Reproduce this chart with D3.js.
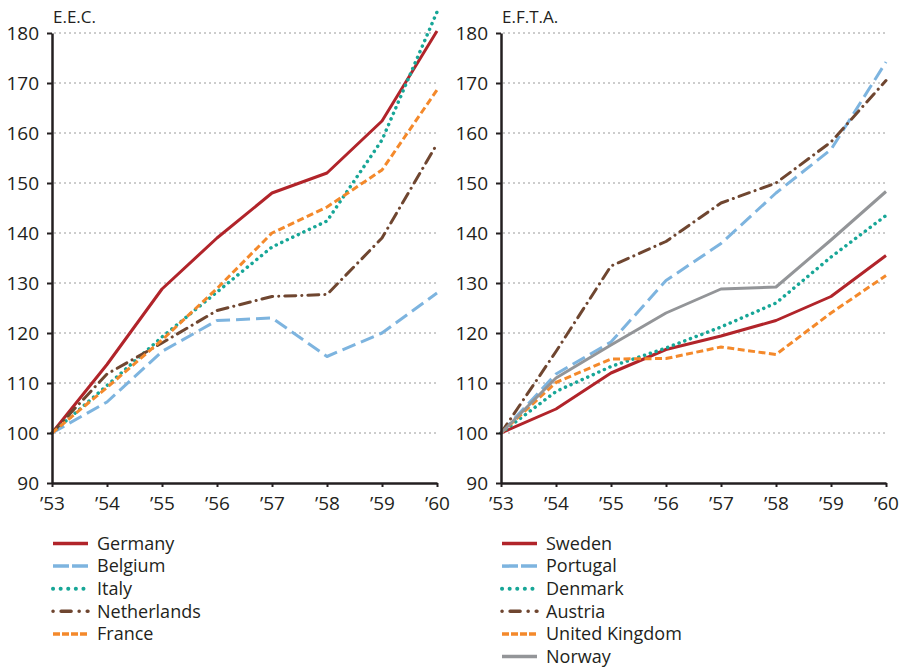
<!DOCTYPE html>
<html>
<head>
<meta charset="utf-8">
<script src="https://cdn.jsdelivr.net/npm/d3@7"></script>
<style>
  body { margin: 0; background: #fff; }
  svg { display: block; font-family: "Open Sans", sans-serif; }
</style>
</head>
<body>
<svg id="chart"></svg>
<script>
// years and tick labels
const years = [1953, 1954, 1955, 1956, 1957, 1958, 1959, 1960];
const yearLabels = ['\u201953', '\u201954', '\u201955', '\u201956', '\u201957', '\u201958', '\u201959', '\u201960'];
const yTicks = [90, 100, 110, 120, 130, 140, 150, 160, 170, 180];

// E.E.C. series (1953 = 100)
const eecNames = ['Germany', 'Belgium', 'Italy', 'Netherlands', 'France'];
const germany     = [100, 113.7, 128.8, 139.0, 148.0, 152.0, 162.4, 180.4];
const belgium     = [100, 106.2, 116.3, 122.5, 123.0, 115.3, 120.0, 128.0];
const italy       = [100, 109.5, 119.2, 128.2, 137.2, 142.4, 158.6, 184.2];
const netherlands = [100, 111.8, 118.0, 124.5, 127.3, 127.7, 139.0, 157.8];
const france      = [100, 109.1, 118.6, 128.9, 140.0, 145.2, 152.6, 168.6];

// E.F.T.A. series (1953 = 100)
const eftaNames = ['Sweden', 'Portugal', 'Denmark', 'Austria', 'United Kingdom', 'Norway'];
const sweden   = [100, 104.8, 112.0, 116.7, 119.4, 122.5, 127.3, 135.5];
const portugal = [100, 111.8, 118.2, 130.5, 137.9, 148.0, 156.7, 174.2];
const denmark  = [100, 108.3, 113.3, 117.0, 121.2, 126.0, 135.2, 143.5];
const austria  = [100, 116.3, 133.4, 138.3, 146.0, 150.0, 158.2, 170.5];
const uk       = [100, 110.1, 114.8, 114.9, 117.2, 115.7, 124.0, 131.5];
const norway   = [100, 111.0, 117.6, 124.0, 128.8, 129.2, 138.6, 148.3];

// line styles by series slot (dash = in chart, legendDash = in key)
const styles = {
  solidRed:  {color: '#b1242a', dash: null, legendDash: null, cap: 'butt', width: 3},
  longBlue:  {color: '#7db4df', dash: '14,6', legendDash: '16,3', cap: 'butt', width: 3},
  dotTeal:   {color: '#17a697', dash: '0.1,6', legendDash: '0.1,7.5', cap: 'round', width: 3.5},
  dashDot:   {color: '#6f4630', dash: '11,6,0.1,6', legendDash: '0.1,8,10,8', cap: 'round', width: 3},
  shortOrg:  {color: '#f4892b', dash: '7,3.5', legendDash: '7,2', cap: 'butt', width: 3},
  solidGray: {color: '#939598', dash: null, legendDash: null, cap: 'butt', width: 3}
};

const eecSeries = [
  {name: eecNames[0], values: germany,     style: styles.solidRed},
  {name: eecNames[1], values: belgium,     style: styles.longBlue},
  {name: eecNames[2], values: italy,       style: styles.dotTeal},
  {name: eecNames[3], values: netherlands, style: styles.dashDot},
  {name: eecNames[4], values: france,      style: styles.shortOrg}
];
const eftaSeries = [
  {name: eftaNames[0], values: sweden,   style: styles.solidRed},
  {name: eftaNames[1], values: portugal, style: styles.longBlue},
  {name: eftaNames[2], values: denmark,  style: styles.dotTeal},
  {name: eftaNames[3], values: austria,  style: styles.dashDot},
  {name: eftaNames[4], values: uk,       style: styles.shortOrg},
  {name: eftaNames[5], values: norway,   style: styles.solidGray}
];

const width = 900, height = 669;
const ink = '#231f20';

const svg = d3.select('#chart')
  .attr('width', width)
  .attr('height', height);

const yScale = d3.scaleLinear().domain([90, 180]).range([483, 33]);

function drawPanel(left, right, title, series) {
  const xScale = d3.scaleLinear().domain([1953, 1960]).range([left, right]);
  const g = svg.append('g');

  // dotted gridlines
  g.append('g')
    .selectAll('line')
    .data(yTicks.filter(d => d > 90))
    .join('line')
    .attr('x1', left + 2)
    .attr('x2', right)
    .attr('y1', d => yScale(d))
    .attr('y2', d => yScale(d))
    .attr('stroke', '#9a9a9a')
    .attr('stroke-width', 1)
    .attr('stroke-dasharray', '2,3');

  // lines
  const line = d3.line()
    .x((d, i) => xScale(years[i]))
    .y(d => yScale(d));

  g.append('g')
    .selectAll('path')
    .data(series)
    .join('path')
    .attr('d', d => line(d.values))
    .attr('fill', 'none')
    .attr('stroke', d => d.style.color)
    .attr('stroke-width', d => d.style.width)
    .attr('stroke-dasharray', d => d.style.dash)
    .attr('stroke-linecap', d => d.style.cap)
    .attr('stroke-linejoin', 'round');

  // y axis
  const yAxis = g.append('g')
    .attr('transform', `translate(${left},0)`)
    .call(d3.axisLeft(yScale).tickValues(yTicks).tickSize(5).tickSizeOuter(0).tickPadding(8));
  yAxis.select('.domain').attr('stroke', ink).attr('stroke-width', 2.5);
  yAxis.selectAll('.tick line').attr('stroke', ink).attr('stroke-width', 2);
  yAxis.selectAll('.tick text')
    .attr('fill', ink)
    .style('font-size', '19px')
    .style('font-family', '"Open Sans", sans-serif');

  // x axis
  const xAxis = g.append('g')
    .attr('transform', `translate(0,${yScale(90)})`)
    .call(d3.axisBottom(xScale).tickValues(years).tickFormat((d, i) => yearLabels[i])
      .tickSize(4).tickSizeOuter(0).tickPadding(10));
  xAxis.select('.domain').attr('stroke', ink).attr('stroke-width', 2.5);
  xAxis.selectAll('.tick line').attr('stroke', ink).attr('stroke-width', 2);
  xAxis.selectAll('.tick text')
    .attr('fill', ink)
    .style('font-size', '19px')
    .style('font-family', '"Open Sans", sans-serif');

  // title
  g.append('text')
    .attr('x', left + 1)
    .attr('y', 23)
    .attr('fill', ink)
    .style('font-size', '17px')
    .text(title);

  // legend
  const legend = g.append('g')
    .selectAll('g')
    .data(series)
    .join('g')
    .attr('transform', (d, i) => `translate(${left},${543.5 + i * 22.6})`);

  legend.append('line')
    .attr('x1', 1)
    .attr('x2', 36)
    .attr('stroke', d => d.style.color)
    .attr('stroke-width', d => d.style.width + 0.5)
    .attr('stroke-dasharray', d => d.style.legendDash)
    .attr('stroke-linecap', d => d.style.cap);

  legend.append('text')
    .attr('x', 45)
    .attr('dy', '0.35em')
    .attr('fill', ink)
    .style('font-size', '18px')
    .text(d => d.name);
}

drawPanel(52, 437, 'E.E.C.', eecSeries);
drawPanel(501, 886, 'E.F.T.A.', eftaSeries);
</script>
</body>
</html>
